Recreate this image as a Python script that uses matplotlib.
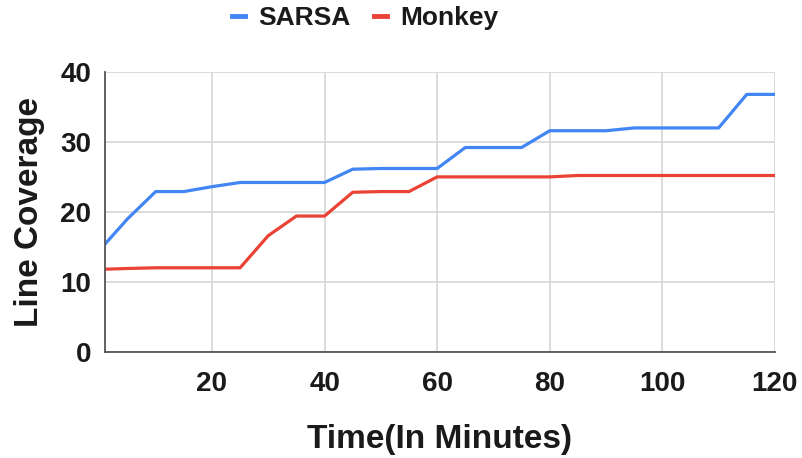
import matplotlib
matplotlib.use("Agg")
from matplotlib import pyplot as plt

minutes = [1, 5, 10, 15, 20, 25, 30, 35, 40, 45, 50, 55, 60, 65, 70, 75, 80,
           85, 90, 95, 100, 105, 110, 115, 120]
sarsa = [15.4, 19.0, 22.9, 22.9, 23.6, 24.2, 24.2, 24.2, 24.2, 26.1, 26.2, 26.2, 26.2,
         29.2, 29.2, 29.2, 31.6, 31.6, 31.6, 32.0, 32.0, 32.0, 32.0, 36.8, 36.8]
monkey = [11.8, 11.9, 12.0, 12.0, 12.0, 12.0, 16.6, 19.4, 19.4, 22.8, 22.9, 22.9, 25.0,
          25.0, 25.0, 25.0, 25.0, 25.2, 25.2, 25.2, 25.2, 25.2, 25.2, 25.2, 25.2]
x_ticks = [20, 40, 60, 80, 100, 120]
y_ticks = [0, 10, 20, 30, 40]

FONT = ['Liberation Sans', 'DejaVu Sans']
INK = '#1a1a1a'

fig = plt.figure(figsize=(8.03, 4.58), dpi=100)
ax = fig.add_axes([0.1308, 0.2321, 0.8342, 0.6107])

ax.plot(minutes, sarsa, color='#4285F4', lw=2.3, label='SARSA')
ax.plot(minutes, monkey, color='#EA4335', lw=2.3, label='Monkey')

ax.set_xlim(1, 120)
ax.set_ylim(0, 40)
ax.set_xticks(x_ticks)
ax.set_yticks(y_ticks)
ax.grid(True, color='#d6d6d6', lw=1.2)
ax.set_axisbelow(True)
for s in ['top', 'right']:
    ax.spines[s].set_visible(False)
for s in ['left', 'bottom']:
    ax.spines[s].set_color('#555555')
    ax.spines[s].set_linewidth(1.3)

ax.tick_params(length=0, labelcolor=INK)
ax.tick_params(axis='x', pad=14)
ax.tick_params(axis='y', pad=10)
for lab in ax.get_xticklabels() + ax.get_yticklabels():
    lab.set_family(FONT)
    lab.set_fontweight('bold')
    lab.set_fontsize(20)

ax.set_xlabel('Time(In Minutes)', family=FONT, fontweight='bold', fontsize=24,
              color=INK, labelpad=19)
ax.set_ylabel('Line Coverage', family=FONT, fontweight='bold', fontsize=24,
              color=INK, labelpad=11)

leg = fig.legend(loc='center', bbox_to_anchor=(0.455, 0.96), ncol=2, frameon=False,
                 prop={'family': FONT, 'weight': 'bold', 'size': 19},
                 handlelength=0.5, handletextpad=0.5, columnspacing=0.9,
                 labelcolor=INK)
for h in leg.get_lines():
    h.set_linewidth(3.5)

fig.savefig('out.png', dpi=100)
